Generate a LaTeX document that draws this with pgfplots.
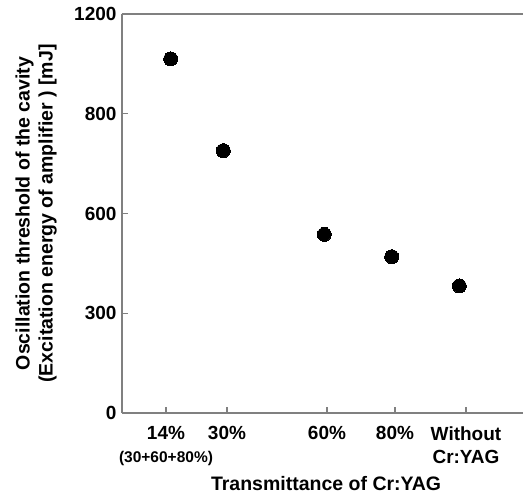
\documentclass[border=0pt]{standalone}
\usepackage{pgfplots}
\pgfplotsset{compat=1.18}
\usepackage{fontspec}
\setmainfont{Liberation Sans}

\begin{document}
\begin{tikzpicture}
\begin{axis}[
  scale only axis, width=401pt, height=399pt,
  xmin=0, xmax=401, ymin=0, ymax=1200,
  axis x line=box, axis y line*=left,
  axis line style={draw=black!50, line width=1.5pt},
  tick style={draw=black!50, line width=1.2pt},
  tick align=inside, major tick length=6pt,
  xtick pos=left, ytick pos=left,
  xtick={44,105,205,273,344},
  xticklabels={14\%\\{\fontsize{15.5}{17}\selectfont (30+60+80\%)}, 30\%, 60\%, 80\%, Without\\Cr:YAG},
  ytick={0,300,600,900,1200},
  yticklabels={0,300,600,800,1200},
  ticklabel style={font=\fontsize{19}{23}\selectfont\bfseries},
  xticklabel style={align=center, anchor=north, yshift=-10pt},
  yticklabel style={anchor=east, xshift=-2pt},
  xlabel={Transmittance of Cr:YAG},
  xlabel style={at={(axis description cs:0.509,-0.193)}, anchor=base, inner sep=0pt,
                font=\fontsize{19.5}{23}\selectfont\bfseries},
  ylabel={Oscillation threshold of the cavity\\(Excitation energy of amplifier ) [mJ]},
  ylabel style={align=center, at={(axis description cs:-0.162,0.5)}, anchor=south, inner sep=0pt,
                font=\fontsize{19.5}{23}\selectfont\bfseries},
  clip=false,
]
\addplot[only marks, mark=*, mark size=7pt, mark options={fill=black, draw=black, line width=0pt}]
  coordinates {(48.7,1065) (101.3,789) (202.3,537) (269.7,470) (337.3,382)};
\coordinate (bl) at (rel axis cs:0,0);
\coordinate (tr) at (rel axis cs:1,1);
\end{axis}
\pgfresetboundingbox
\path ([shift={(-122pt,-80pt)}]bl) rectangle ([shift={(0pt,14pt)}]tr);
\end{tikzpicture}
\end{document}
